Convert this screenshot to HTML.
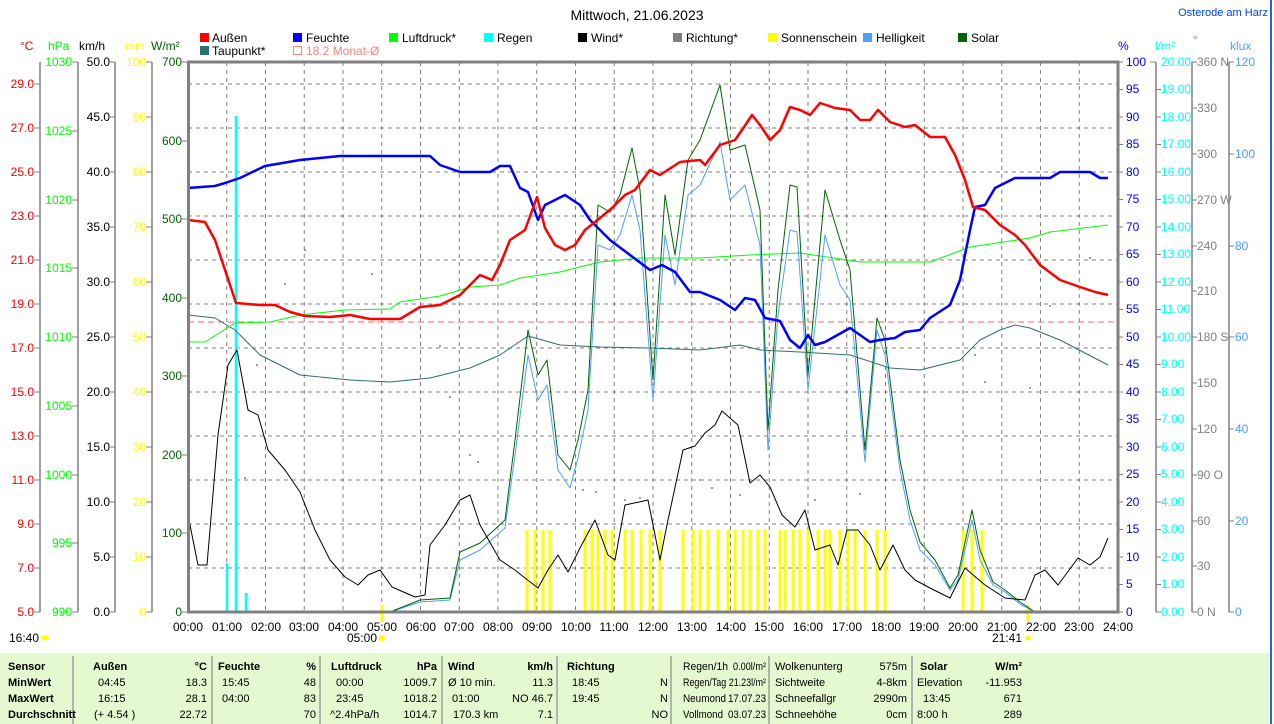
<!DOCTYPE html>
<html><head><meta charset="utf-8"><style>
html,body{margin:0;padding:0;background:#fff;}
svg{display:block;font-family:"Liberation Sans",sans-serif;}
.t{font-size:12px;}
.tb{font-size:11px;}
.b{font-weight:bold;}
</style></head><body>
<svg width="1274" height="724" viewBox="0 0 1274 724" xmlns="http://www.w3.org/2000/svg">
<rect x="0" y="0" width="1274" height="724" fill="#fff"/>
<line x1="1271" y1="0" x2="1271" y2="724" stroke="#2060ff" stroke-width="2"/>
<text x="637" y="20" text-anchor="middle" font-size="14" fill="#000">Mittwoch, 21.06.2023</text>
<text x="1268" y="16" text-anchor="end" font-size="11" fill="#0040ff">Osterode am Harz</text>

<!-- legend -->
<g class="t" font-size="11">
<rect x="200" y="33" width="9" height="9" fill="#f00"/><text x="212" y="42">Außen</text>
<rect x="293" y="33" width="9" height="9" fill="#00f"/><text x="306" y="42">Feuchte</text>
<rect x="389" y="33" width="9" height="9" fill="#0f0"/><text x="402" y="42">Luftdruck*</text>
<rect x="484" y="33" width="9" height="9" fill="#0ff"/><text x="497" y="42">Regen</text>
<rect x="578" y="33" width="9" height="9" fill="#000"/><text x="591" y="42">Wind*</text>
<rect x="673" y="33" width="9" height="9" fill="#808080"/><text x="686" y="42">Richtung*</text>
<rect x="768" y="33" width="9" height="9" fill="#ff0"/><text x="781" y="42">Sonnenschein</text>
<rect x="863" y="33" width="9" height="9" fill="#4aa0ff"/><text x="876" y="42">Helligkeit</text>
<rect x="958" y="33" width="9" height="9" fill="#006400"/><text x="971" y="42">Solar</text>
<rect x="200" y="46" width="9" height="9" fill="#2f6f6f"/><text x="212" y="55">Taupunkt*</text>
<rect x="293.5" y="46.5" width="8" height="8" fill="none" stroke="#ff8080"/><text x="306" y="55" fill="#ff8080">18.2 Monat-Ø</text>
</g>

<!-- unit headers -->
<g font-size="12">
<text x="20" y="50" fill="#f00">°C</text>
<text x="48" y="50" fill="#0f0">hPa</text>
<text x="79" y="50" fill="#000">km/h</text>
<text x="125" y="50" fill="#ff0">min</text>
<text x="151" y="50" fill="#006400">W/m²</text>
<text x="1118" y="50" fill="#00f">%</text>
<text x="1155" y="50" fill="#0ff">l/m²</text>
<text x="1193" y="44" fill="#808080">°</text>
<text x="1230" y="50" fill="#4aa0ff">klux</text>
</g>

<!-- axis lines -->
<g stroke="#808080" stroke-width="1.5">
<line x1="40" y1="62" x2="40" y2="612"/>
<line x1="78" y1="62" x2="78" y2="612"/>
<line x1="115" y1="62" x2="115" y2="612"/>
<line x1="152" y1="62" x2="152" y2="612"/>
<line x1="1156" y1="62" x2="1156" y2="612"/>
<line x1="1192" y1="62" x2="1192" y2="612"/>
<line x1="1229" y1="62" x2="1229" y2="612"/>
</g>

<!-- grid -->
<g stroke="#808080" stroke-dasharray="4,4" stroke-width="1">
<line x1="188" y1="84" x2="1118" y2="84"/><line x1="188" y1="128" x2="1118" y2="128"/>
<line x1="188" y1="172" x2="1118" y2="172"/><line x1="188" y1="216" x2="1118" y2="216"/>
<line x1="188" y1="260" x2="1118" y2="260"/><line x1="188" y1="304" x2="1118" y2="304"/>
<line x1="188" y1="348" x2="1118" y2="348"/><line x1="188" y1="392" x2="1118" y2="392"/>
<line x1="188" y1="436" x2="1118" y2="436"/><line x1="188" y1="480" x2="1118" y2="480"/>
<line x1="188" y1="524" x2="1118" y2="524"/><line x1="188" y1="568" x2="1118" y2="568"/>
<line x1="226.75" y1="62" x2="226.75" y2="612"/><line x1="265.5" y1="62" x2="265.5" y2="612"/>
<line x1="304.25" y1="62" x2="304.25" y2="612"/><line x1="343" y1="62" x2="343" y2="612"/>
<line x1="381.75" y1="62" x2="381.75" y2="612"/><line x1="420.5" y1="62" x2="420.5" y2="612"/>
<line x1="459.25" y1="62" x2="459.25" y2="612"/><line x1="498" y1="62" x2="498" y2="612"/>
<line x1="536.75" y1="62" x2="536.75" y2="612"/><line x1="575.5" y1="62" x2="575.5" y2="612"/>
<line x1="614.25" y1="62" x2="614.25" y2="612"/><line x1="653" y1="62" x2="653" y2="612"/>
<line x1="691.75" y1="62" x2="691.75" y2="612"/><line x1="730.5" y1="62" x2="730.5" y2="612"/>
<line x1="769.25" y1="62" x2="769.25" y2="612"/><line x1="808" y1="62" x2="808" y2="612"/>
<line x1="846.75" y1="62" x2="846.75" y2="612"/><line x1="885.5" y1="62" x2="885.5" y2="612"/>
<line x1="924.25" y1="62" x2="924.25" y2="612"/><line x1="963" y1="62" x2="963" y2="612"/>
<line x1="1001.75" y1="62" x2="1001.75" y2="612"/><line x1="1040.5" y1="62" x2="1040.5" y2="612"/>
<line x1="1079.25" y1="62" x2="1079.25" y2="612"/>
</g>

<!-- left tick labels -->
<g font-size="12" text-anchor="end">
<g fill="#f00">
<text x="34" y="88">29.0</text><text x="34" y="132">27.0</text><text x="34" y="176">25.0</text>
<text x="34" y="220">23.0</text><text x="34" y="264">21.0</text><text x="34" y="308">19.0</text>
<text x="34" y="352">17.0</text><text x="34" y="396">15.0</text><text x="34" y="440">13.0</text>
<text x="34" y="484">11.0</text><text x="34" y="528">9.0</text><text x="34" y="572">7.0</text>
<text x="34" y="616">5.0</text></g>
<g fill="#0f0">
<text x="72" y="66">1030</text><text x="72" y="135">1025</text><text x="72" y="204">1020</text>
<text x="72" y="272">1015</text><text x="72" y="341">1010</text><text x="72" y="410">1005</text>
<text x="72" y="479">1000</text><text x="72" y="547">995</text><text x="72" y="616">990</text></g>
<g fill="#000">
<text x="110" y="66">50.0</text><text x="110" y="121">45.0</text><text x="110" y="176">40.0</text>
<text x="110" y="231">35.0</text><text x="110" y="286">30.0</text><text x="110" y="341">25.0</text>
<text x="110" y="396">20.0</text><text x="110" y="451">15.0</text><text x="110" y="506">10.0</text>
<text x="110" y="561">5.0</text><text x="110" y="616">0.0</text></g>
<g fill="#ff0">
<text x="146" y="66">100</text><text x="146" y="121">90</text><text x="146" y="176">80</text>
<text x="146" y="231">70</text><text x="146" y="286">60</text><text x="146" y="341">50</text>
<text x="146" y="396">40</text><text x="146" y="451">30</text><text x="146" y="506">20</text>
<text x="146" y="561">10</text><text x="146" y="616">0</text></g>
<g fill="#006400">
<text x="182" y="66">700</text><text x="182" y="145">600</text><text x="182" y="223">500</text>
<text x="182" y="302">400</text><text x="182" y="380">300</text><text x="182" y="459">200</text>
<text x="182" y="537">100</text><text x="182" y="616">0</text></g>
</g>
<!-- left ticks -->
<g stroke="#808080">
<path d="M34 84h6M34 128h6M34 172h6M34 216h6M34 260h6M34 304h6M34 348h6M34 392h6M34 436h6M34 480h6M34 524h6M34 568h6M34 612h6"/>
<path d="M72 62h6M72 131h6M72 200h6M72 268h6M72 337h6M72 406h6M72 475h6M72 543h6M72 612h6"/>
<path d="M109 62h6M109 117h6M109 172h6M109 227h6M109 282h6M109 337h6M109 392h6M109 447h6M109 502h6M109 557h6M109 612h6"/>
<path d="M146 62h6M146 117h6M146 172h6M146 227h6M146 282h6M146 337h6M146 392h6M146 447h6M146 502h6M146 557h6M146 612h6"/>
<path d="M182 62h6M182 141h6M182 219h6M182 298h6M182 376h6M182 455h6M182 533h6M182 612h6"/>
</g>

<!-- right tick labels -->
<g font-size="12">
<g fill="#00f">
<text x="1126" y="66">100</text><text x="1126" y="93">95</text><text x="1126" y="121">90</text><text x="1126" y="148">85</text>
<text x="1126" y="176">80</text><text x="1126" y="203">75</text><text x="1126" y="231">70</text><text x="1126" y="258">65</text>
<text x="1126" y="286">60</text><text x="1126" y="313">55</text><text x="1126" y="341">50</text><text x="1126" y="368">45</text>
<text x="1126" y="396">40</text><text x="1126" y="423">35</text><text x="1126" y="451">30</text><text x="1126" y="478">25</text>
<text x="1126" y="506">20</text><text x="1126" y="533">15</text><text x="1126" y="561">10</text><text x="1126" y="588">5</text>
<text x="1126" y="616">0</text></g>
<g fill="#0ff">
<text x="1161" y="66">20.00</text><text x="1161" y="93">19.00</text><text x="1161" y="121">18.00</text><text x="1161" y="148">17.00</text>
<text x="1161" y="176">16.00</text><text x="1161" y="203">15.00</text><text x="1161" y="231">14.00</text><text x="1161" y="258">13.00</text>
<text x="1161" y="286">12.00</text><text x="1161" y="313">11.00</text><text x="1161" y="341">10.00</text><text x="1161" y="368">9.00</text>
<text x="1161" y="396">8.00</text><text x="1161" y="423">7.00</text><text x="1161" y="451">6.00</text><text x="1161" y="478">5.00</text>
<text x="1161" y="506">4.00</text><text x="1161" y="533">3.00</text><text x="1161" y="561">2.00</text><text x="1161" y="588">1.00</text>
<text x="1161" y="616">0.00</text></g>
<g fill="#808080">
<text x="1197" y="66">360 N</text><text x="1197" y="112">330</text><text x="1197" y="158">300</text><text x="1197" y="204">270 W</text>
<text x="1197" y="250">240</text><text x="1197" y="295">210</text><text x="1197" y="341">180 S</text><text x="1197" y="387">150</text>
<text x="1197" y="433">120</text><text x="1197" y="479">90 O</text><text x="1197" y="525">60</text><text x="1197" y="570">30</text>
<text x="1197" y="616">0 N</text></g>
<g fill="#4aa0ff">
<text x="1235" y="66">120</text><text x="1235" y="158">100</text><text x="1235" y="250">80</text><text x="1235" y="341">60</text>
<text x="1235" y="433">40</text><text x="1235" y="525">20</text><text x="1235" y="616">0</text></g>
</g>
<g stroke="#808080">
<path d="M1118 62h5M1118 89.5h5M1118 117h5M1118 144.5h5M1118 172h5M1118 199.5h5M1118 227h5M1118 254.5h5M1118 282h5M1118 309.5h5M1118 337h5M1118 364.5h5M1118 392h5M1118 419.5h5M1118 447h5M1118 474.5h5M1118 502h5M1118 529.5h5M1118 557h5M1118 584.5h5M1118 612h5"/>
<path d="M1150 62h6M1156 89.5h5M1156 117h5M1156 144.5h5M1156 172h5M1156 199.5h5M1156 227h5M1156 254.5h5M1156 282h5M1156 309.5h5M1156 337h5M1156 364.5h5M1156 392h5M1156 419.5h5M1156 447h5M1156 474.5h5M1156 502h5M1156 529.5h5M1156 557h5M1156 584.5h5M1156 612h5"/>
<path d="M1192 62h5M1192 108h5M1192 154h5M1192 200h5M1192 246h5M1192 291h5M1192 337h5M1192 383h5M1192 429h5M1192 475h5M1192 521h5M1192 566h5M1192 612h5"/>
<path d="M1229 62h5M1229 154h5M1229 246h5M1229 337h5M1229 429h5M1229 521h5M1229 612h5"/>
</g>

<!-- Monat line -->
<line x1="188" y1="322" x2="1118" y2="322" stroke="#ff6060" stroke-dasharray="6,4"/>

<!-- sunshine bars -->
<g stroke="#ff0" stroke-width="3">
<path d="M527 612V530M535 612V530M543 612V530M550 612V530M585 612V530M592 612V530M598 612V530M605 612V530M612 612V530M625 612V530M632 612V530M641 612V530M650 612V530M660 612V530M683 612V530M693 612V530M700 612V530M708 612V530M718 612V530M728 612V530M735 612V530M743 612V530M750 612V530M758 612V530M765 612V530M780 612V530M785 612V530M793 612V530M800 612V530M808 612V530M818 612V530M825 612V530M830 612V530M840 612V530M848 612V530M855 612V530M865 612V530M877 612V530M885 612V530M963 612V530M972 612V530M982 612V530M382 622V605M1028 622V605"/>
</g>
<!-- rain -->
<g stroke="#0ff" stroke-width="2.5">
<path d="M236 612V116M227 612V563M246 612V593"/>
</g>

<!-- direction dots -->
<g fill="#808080">
<circle cx="257" cy="365" r="1"/><circle cx="285" cy="284" r="1"/><circle cx="305" cy="250" r="1"/><circle cx="372" cy="274" r="1"/><circle cx="440" cy="346" r="1"/><circle cx="450" cy="397" r="1"/><circle cx="470" cy="455" r="1"/><circle cx="478" cy="462" r="1"/><circle cx="583" cy="490" r="1"/><circle cx="596" cy="492" r="1"/><circle cx="625" cy="500" r="1"/><circle cx="640" cy="498" r="1"/><circle cx="700" cy="480" r="1"/><circle cx="712" cy="488" r="1"/><circle cx="740" cy="495" r="1"/><circle cx="815" cy="500" r="1"/><circle cx="860" cy="494" r="1"/><circle cx="975" cy="355" r="1"/><circle cx="985" cy="382" r="1"/><circle cx="1030" cy="388" r="1"/><circle cx="1050" cy="306" r="1"/><circle cx="1090" cy="258" r="1"/><circle cx="245" cy="478" r="1"/>
</g>

<g fill="none" stroke-linejoin="round">
<polyline stroke="#2f6f6f" stroke-width="1" points="188,315 215,318 235,330 260,355 300,375 350,380 390,382 430,378 470,368 500,355 528,336 560,345 600,347 650,348 700,350 740,345 760,350 800,352 850,355 890,368 920,370 960,360 980,340 1000,330 1015,325 1030,328 1060,340 1108,365"/>
<polyline stroke="#0f0" stroke-width="1" points="188,342 205,342 235,323 270,322 300,315 345,310 390,309 400,302 440,296 470,287 500,285 520,278 560,272 600,262 640,258 700,258 750,255 800,253 860,262 930,262 970,247 1030,238 1050,232 1108,225"/>
<polyline stroke="#4aa0ff" stroke-width="1" points="188,612 390,612 420,602 450,600 460,560 480,550 505,528 515,455 528,355 538,400 547,385 558,470 570,488 578,458 588,410 598,245 610,250 620,235 632,195 640,230 653,400 665,235 675,285 688,195 700,185 720,142 730,200 745,185 760,245 768,450 778,315 790,230 797,232 808,390 825,235 840,285 850,300 865,462 877,330 885,355 900,470 910,520 920,550 935,565 950,590 958,580 972,520 980,560 993,585 1005,592 1020,604 1035,612 1040,612"/>
<polyline stroke="#006400" stroke-width="1" points="188,612 390,612 420,600 450,598 460,552 480,543 505,520 515,440 528,330 538,375 547,360 558,455 570,470 578,440 588,390 598,205 610,212 620,195 632,148 640,190 653,380 665,195 675,255 688,160 700,140 720,85 730,150 745,145 760,210 768,430 778,290 790,185 797,187 808,375 825,190 840,240 850,270 865,450 877,318 885,340 900,460 910,510 920,542 935,560 950,588 958,575 972,510 980,550 993,582 1005,590 1020,602 1035,612 1040,612"/>
<polyline stroke="#000" stroke-width="1" points="188,515 198,565 207,565 218,435 228,365 237,350 248,410 258,415 268,450 285,470 300,492 315,530 330,560 345,577 358,585 368,575 380,570 392,587 415,597 425,595 430,545 445,525 460,500 470,495 480,525 500,560 515,570 525,578 538,588 548,570 558,555 568,572 580,548 595,520 608,555 615,560 625,505 648,500 660,560 668,520 683,450 695,446 705,433 715,425 722,411 738,425 750,483 760,475 770,487 782,515 795,527 805,510 815,550 830,545 838,565 847,530 858,530 870,545 880,570 893,545 905,570 915,580 930,588 950,598 965,568 985,585 1005,598 1025,600 1035,575 1045,570 1058,585 1078,558 1090,565 1100,557 1108,538"/>
<polyline stroke="#00f" stroke-width="2.5" points="188,188 215,186 225,183 240,178 265,166 300,160 340,156 430,156 440,165 460,172 490,172 500,166 510,166 520,188 528,192 538,220 545,205 565,195 580,205 590,220 610,240 630,255 650,270 662,265 675,272 690,292 700,292 720,300 735,310 745,298 755,300 765,318 780,321 790,340 800,348 808,335 815,345 825,342 850,328 860,335 870,342 880,340 895,338 905,332 920,330 930,318 950,305 960,280 970,230 975,207 985,205 995,188 1015,178 1050,178 1060,172 1090,172 1100,178 1108,178"/>
<polyline stroke="#f00" stroke-width="2.5" points="188,220 205,222 215,240 225,270 236,303 260,305 275,305 290,312 305,316 330,317 350,315 370,319 400,319 420,307 440,305 460,295 480,275 492,280 500,265 510,240 525,230 537,197 545,228 555,245 565,250 575,245 585,230 600,218 612,208 625,195 635,190 650,170 660,175 680,162 700,160 705,165 720,145 735,140 742,130 752,115 760,125 770,140 780,130 790,107 800,110 810,115 820,103 835,108 850,110 860,120 870,120 878,110 890,122 905,127 915,125 930,137 945,137 955,155 965,180 973,207 985,210 1000,225 1015,235 1025,245 1040,265 1060,280 1080,287 1095,292 1108,295"/>
</g>

<rect x="188.5" y="62" width="929.5" height="550" fill="none" stroke="#808080" stroke-width="3"/>

<!-- x labels -->
<g font-size="12" text-anchor="middle" fill="#000">
<text x="188" y="631">00:00</text><text x="227" y="631">01:00</text><text x="266" y="631">02:00</text><text x="304" y="631">03:00</text>
<text x="343" y="631">04:00</text><text x="382" y="631">05:00</text><text x="421" y="631">06:00</text><text x="459" y="631">07:00</text>
<text x="498" y="631">08:00</text><text x="537" y="631">09:00</text><text x="576" y="631">10:00</text><text x="614" y="631">11:00</text>
<text x="653" y="631">12:00</text><text x="692" y="631">13:00</text><text x="731" y="631">14:00</text><text x="769" y="631">15:00</text>
<text x="808" y="631">16:00</text><text x="847" y="631">17:00</text><text x="886" y="631">18:00</text><text x="924" y="631">19:00</text>
<text x="963" y="631">20:00</text><text x="1002" y="631">21:00</text><text x="1041" y="631">22:00</text><text x="1079" y="631">23:00</text>
<text x="1118" y="631">24:00</text>
<text x="24" y="642">16:40</text><text x="362" y="642">05:00</text><text x="1007" y="642">21:41</text>
</g>
<ellipse cx="45" cy="638" rx="4" ry="2.5" fill="#ff0"/>
<circle cx="382" cy="638" r="3" fill="#ff0"/>
<ellipse cx="1028" cy="638" rx="3" ry="2.5" fill="#ff0"/>

<!-- table -->
<rect x="0" y="653" width="1270" height="71" fill="#e4f9d0"/>
<g stroke="#a0a0a0" stroke-width="1.5">
<line x1="73" y1="656" x2="73" y2="724"/><line x1="212" y1="656" x2="212" y2="724"/>
<line x1="320" y1="656" x2="320" y2="724"/><line x1="442" y1="656" x2="442" y2="724"/>
<line x1="557" y1="656" x2="557" y2="724"/><line x1="671" y1="656" x2="671" y2="724"/>
<line x1="769" y1="656" x2="769" y2="724"/>
<line x1="912" y1="656" x2="912" y2="724"/>
</g>
<g class="tb" fill="#000">
<g class="b">
<text x="8" y="670">Sensor</text><text x="8" y="686">MinWert</text><text x="8" y="702">MaxWert</text><text x="8" y="718">Durchschnitt</text>
<text x="93" y="670">Außen</text><text x="207" y="670" text-anchor="end">°C</text>
<text x="218" y="670">Feuchte</text><text x="316" y="670" text-anchor="end">%</text>
<text x="331" y="670">Luftdruck</text><text x="437" y="670" text-anchor="end">hPa</text>
<text x="448" y="670">Wind</text><text x="553" y="670" text-anchor="end">km/h</text>
<text x="567" y="670">Richtung</text>
<text x="920" y="670">Solar</text><text x="1022" y="670" text-anchor="end">W/m²</text>
</g>
<text x="98" y="686">04:45</text><text x="207" y="686" text-anchor="end">18.3</text>
<text x="98" y="702">16:15</text><text x="207" y="702" text-anchor="end">28.1</text>
<text x="94" y="718">(+ 4.54 )</text><text x="207" y="718" text-anchor="end">22.72</text>
<text x="222" y="686">15:45</text><text x="316" y="686" text-anchor="end">48</text>
<text x="222" y="702">04:00</text><text x="316" y="702" text-anchor="end">83</text>
<text x="316" y="718" text-anchor="end">70</text>
<text x="336" y="686">00:00</text><text x="437" y="686" text-anchor="end">1009.7</text>
<text x="336" y="702">23:45</text><text x="437" y="702" text-anchor="end">1018.2</text>
<text x="330" y="718">^2.4hPa/h</text><text x="437" y="718" text-anchor="end">1014.7</text>
<text x="448" y="686">Ø 10 min.</text><text x="553" y="686" text-anchor="end">11.3</text>
<text x="452" y="702">01:00</text><text x="553" y="702" text-anchor="end">NO 46.7</text>
<text x="453" y="718">170.3 km</text><text x="553" y="718" text-anchor="end">7.1</text>
<text x="572" y="686">18:45</text><text x="668" y="686" text-anchor="end">N</text>
<text x="572" y="702">19:45</text><text x="668" y="702" text-anchor="end">N</text>
<text x="668" y="718" text-anchor="end">NO</text>
<text x="683" y="670" textLength="45" lengthAdjust="spacingAndGlyphs">Regen/1h</text><text x="766" y="670" text-anchor="end" textLength="33" lengthAdjust="spacingAndGlyphs">0.00l/m²</text>
<text x="683" y="686" textLength="83" lengthAdjust="spacingAndGlyphs">Regen/Tag 21.23l/m²</text>
<text x="683" y="702" textLength="43" lengthAdjust="spacingAndGlyphs">Neumond</text><text x="766" y="702" text-anchor="end" textLength="38" lengthAdjust="spacingAndGlyphs">17.07.23</text>
<text x="683" y="718" textLength="40" lengthAdjust="spacingAndGlyphs">Vollmond</text><text x="766" y="718" text-anchor="end" textLength="38" lengthAdjust="spacingAndGlyphs">03.07.23</text>
<text x="775" y="670">Wolkenunterg</text><text x="907" y="670" text-anchor="end">575m</text>
<text x="775" y="686">Sichtweite</text><text x="907" y="686" text-anchor="end">4-8km</text>
<text x="775" y="702">Schneefallgr</text><text x="907" y="702" text-anchor="end">2990m</text>
<text x="775" y="718">Schneehöhe</text><text x="907" y="718" text-anchor="end">0cm</text>
<text x="917" y="686">Elevation</text><text x="1022" y="686" text-anchor="end">-11.953</text>
<text x="923" y="702">13:45</text><text x="1022" y="702" text-anchor="end">671</text>
<text x="917" y="718">8:00 h</text><text x="1022" y="718" text-anchor="end">289</text>
</g>
</svg>
</body></html>
